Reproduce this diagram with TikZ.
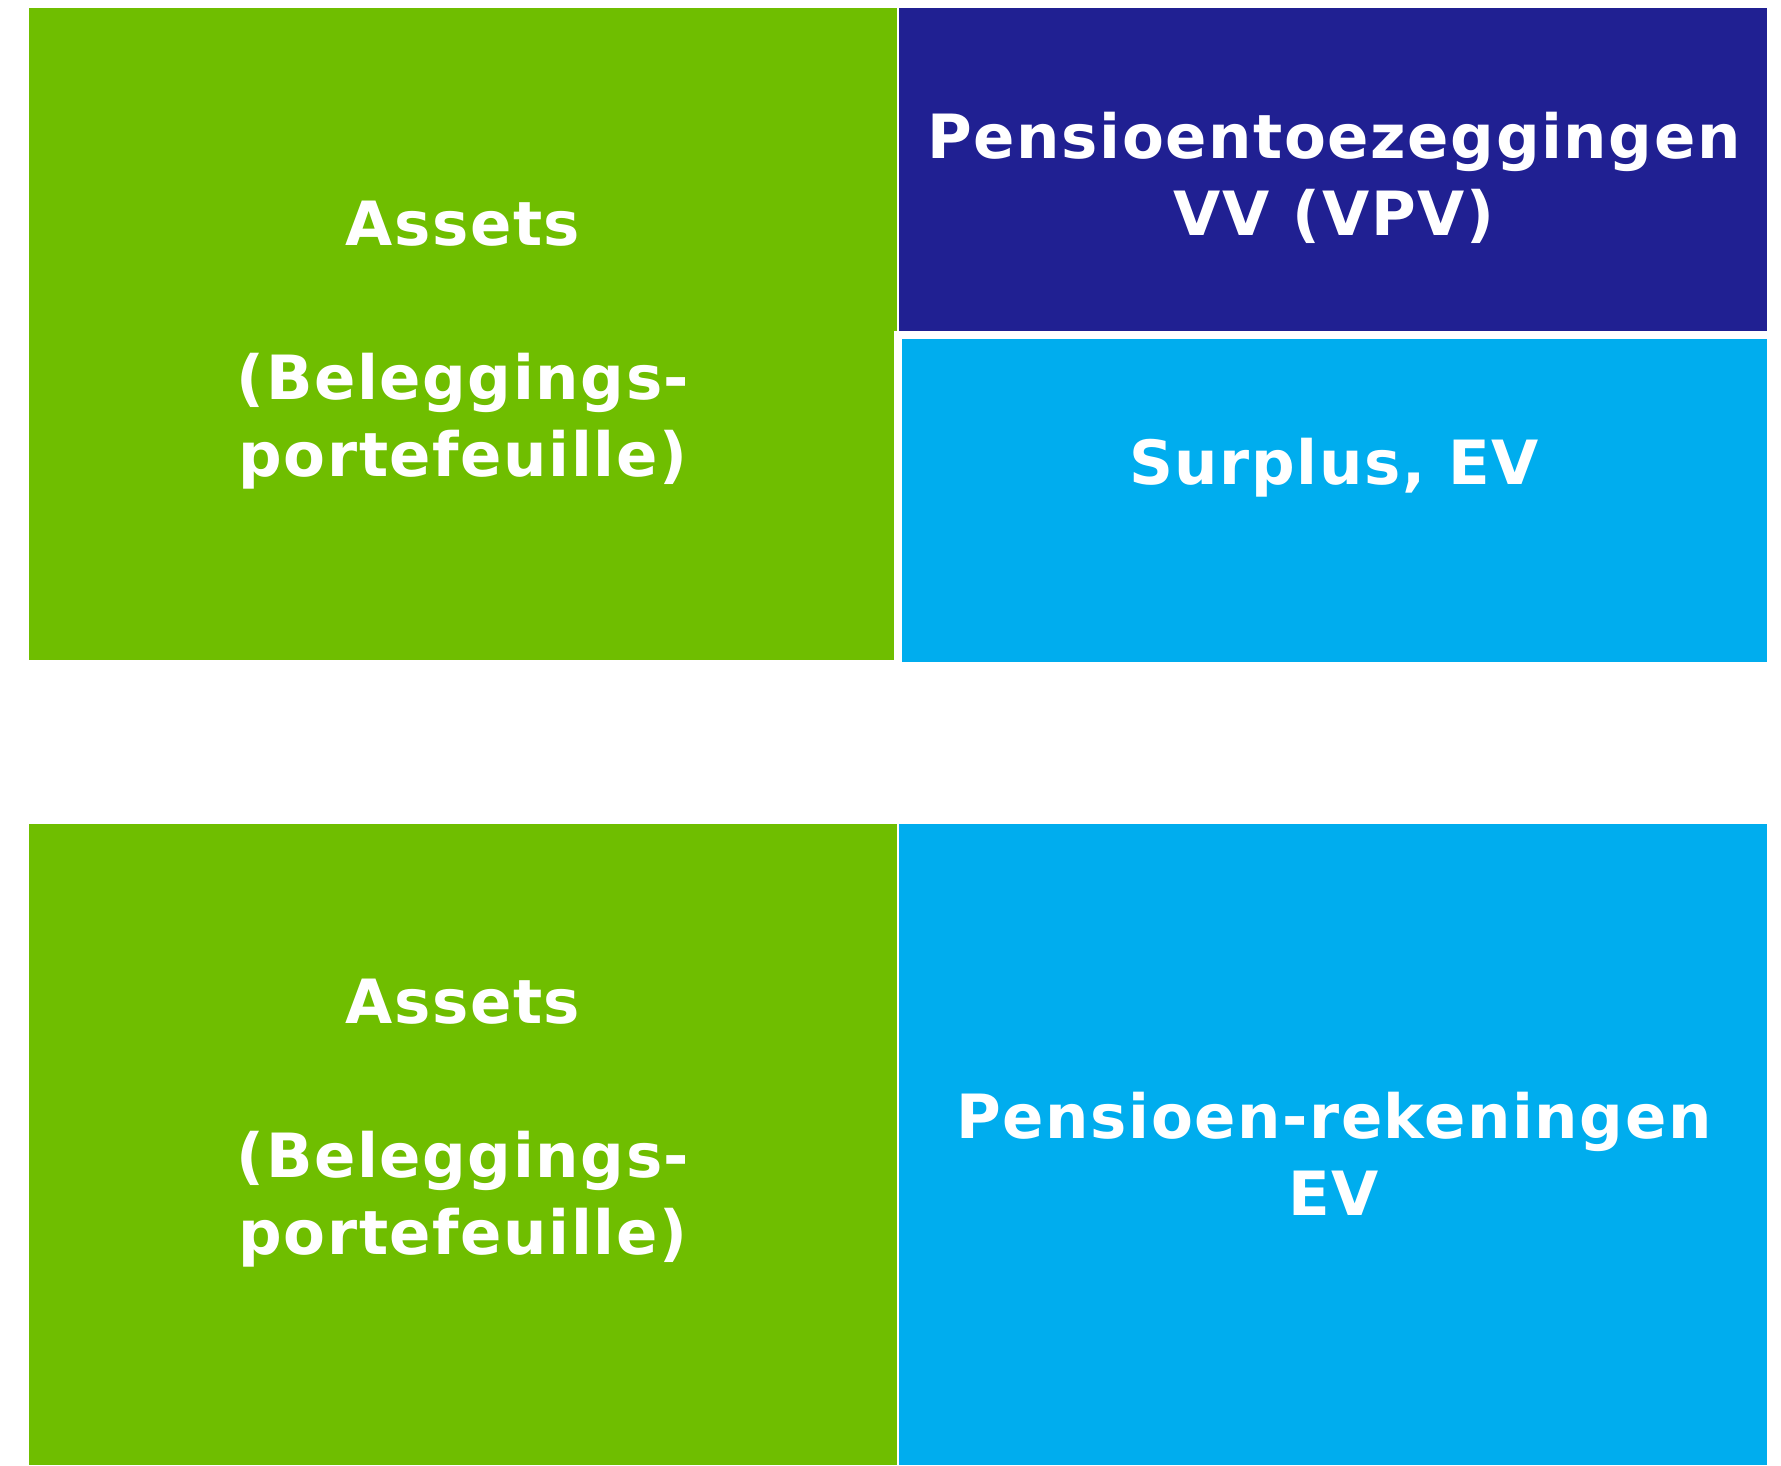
\documentclass[tikz,border=0pt]{standalone}
\usepackage{fontspec}
\setmainfont{DejaVu Sans}
\definecolor{assetgreen}{RGB}{111,190,0}
\definecolor{liabnavy}{RGB}{32,32,146}
\definecolor{equitycyan}{RGB}{0,173,238}
\tikzset{
  block/.style={fill=#1, draw=none},
  label/.style={text=white, font=\fontsize{61}{77}\selectfont\bfseries\addfontfeature{LetterSpace=2.6}, align=center, inner sep=0pt},
}
\begin{document}
\begin{tikzpicture}[x=1pt,y=-1pt]
  \useasboundingbox (0,0) rectangle (1781,1465);
  % top balance sheet
  \fill[block=assetgreen] (29,8) rectangle (897,660);
  \fill[block=liabnavy] (899,8) rectangle (1767,331);
  \fill[white] (894,331) rectangle (1770,665);
  \fill[block=equitycyan] (902,339) rectangle (1767,662);
  % bottom balance sheet
  \fill[block=assetgreen] (29,824) rectangle (897,1465);
  \fill[block=equitycyan] (899,824) rectangle (1767,1465);
  % labels
  \node[label] (assetsTop) at (463,345) {Assets\\[0pt]\strut\\(Beleggings-\\portefeuille)};
  \node[label] (vpv) at (1334,178) {Pensioentoezeggingen\\VV (VPV)};
  \node[label] (surplus) at (1334,468) {Surplus, EV};
  \node[label] (assetsBot) at (463,1123) {Assets\\[0pt]\strut\\(Beleggings-\\portefeuille)};
  \node[label] (accounts) at (1334,1154) {Pensioen-rekeningen\\EV};
\end{tikzpicture}
\end{document}
